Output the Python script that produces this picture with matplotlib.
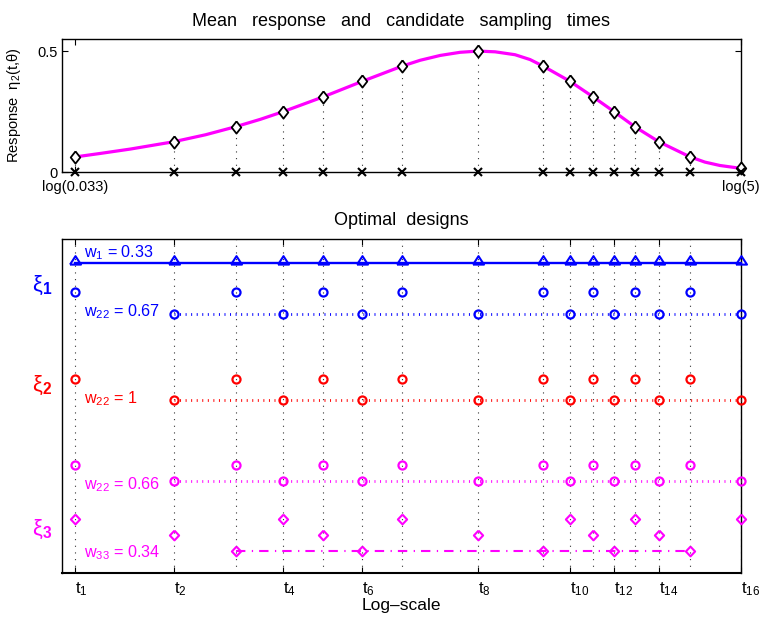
import numpy as np
import matplotlib
matplotlib.use("Agg")
import matplotlib.pyplot as plt
from matplotlib.transforms import blended_transform_factory

plt.rcParams['font.family'] = ['Liberation Sans', 'DejaVu Sans']
plt.rcParams['mathtext.fontset'] = 'custom'
plt.rcParams['mathtext.rm'] = 'Liberation Sans'
plt.rcParams['mathtext.it'] = 'Liberation Sans:italic'
plt.rcParams['mathtext.bf'] = 'Liberation Sans:bold'

# ---------------- data ----------------
times = [0.033, 0.0695, 0.111, 0.159, 0.215, 0.288, 0.389, 0.690,
         1.125, 1.379, 1.64, 1.92, 2.25, 2.69, 3.40, 5.0]
response = [0.062, 0.125, 0.187, 0.249, 0.311, 0.375, 0.438, 0.500,
            0.438, 0.375, 0.311, 0.249, 0.187, 0.125, 0.063, 0.015]

curve_logt = [-3.411, -3.215, -2.990, -2.666, -2.425, -2.200, -2.011, -1.838,
              -1.537, -1.244, -0.943, -0.808, -0.657, -0.507, -0.371, -0.243,
              -0.093, 0.020, 0.118, 0.321, 0.494, 0.652, 0.810, 0.991,
              1.111, 1.224, 1.337, 1.450, 1.609]
curve_resp = [0.062, 0.077, 0.095, 0.125, 0.154, 0.187, 0.218, 0.250,
              0.311, 0.375, 0.438, 0.462, 0.482, 0.495, 0.500, 0.497,
              0.485, 0.465, 0.438, 0.375, 0.311, 0.250, 0.187, 0.125,
              0.093, 0.063, 0.041, 0.027, 0.015]

top_tick_labels = ['log(0.033)', 'log(5)']
bottom_tick_idx = [0, 1, 3, 5, 7, 9, 11, 13, 15]
bottom_tick_labels = ['t$_{1}$', 't$_{2}$', 't$_{4}$', 't$_{6}$', 't$_{8}$',
                      't$_{10}$', 't$_{12}$', 't$_{14}$', 't$_{16}$']

all_idx = list(range(16))
odd_idx = [0, 2, 4, 6, 8, 10, 12, 14]
even_idx = [1, 3, 5, 7, 9, 11, 13, 15]
xi3_a_idx = [0, 3, 6, 9, 12, 15]
xi3_b_idx = [1, 4, 7, 10, 13]
xi3_c_idx = [2, 5, 8, 11, 14]

weight_labels = ['w$_{1}$ = 0.33', 'w$_{22}$ = 0.67', 'w$_{22}$ = 1',
                 'w$_{22}$ = 0.66', 'w$_{33}$ = 0.34']
design_labels = ['ξ$\\mathbf{_1}$', 'ξ$\\mathbf{_2}$', 'ξ$\\mathbf{_3}$']

# ---------------- styles ----------------
BLUE = '#0000FF'
RED = '#FF0000'
MAG = '#FF00FF'
dotted_grid = (0, (1, 5))
dotted_col = (0, (0.35, 1.65))
dashdot = (0, (4.5, 3.1, 0.6, 2.9))

tri_marker = [(-1, -0.2), (1, -0.2), (0, 1.34), (-1, -0.2)]
dia_top = [(0, 1), (0.78, 0), (0, -1), (-0.78, 0), (0, 1)]
dia_bot = [(0, 1), (0.95, 0), (0, -1), (-0.95, 0), (0, 1)]

logt = np.log(np.array(times))
resp = np.array(response)
xlim = (np.log(0.03), np.log(5.0))

fig = plt.figure(figsize=(7.65, 6.17), dpi=100)
ax1 = fig.add_axes([62 / 765, 1 - 172 / 617, 679 / 765, 133 / 617])
ax2 = fig.add_axes([62 / 765, 1 - 573 / 617, 679 / 765, 334 / 617])

# ---------------- top panel ----------------
for x, y in zip(logt, resp):
    ax1.plot([x, x], [0, y], color='#333333', lw=0.8, ls=dotted_grid, zorder=1)
ax1.plot(curve_logt, curve_resp, color=MAG, lw=2.3, zorder=2, solid_capstyle='butt')
ax1.plot(logt, resp, ls='none', marker=dia_top, ms=8.8, mfc='white', mec='black',
         mew=1.3, zorder=4, clip_on=False)
ax1.plot(logt, np.zeros_like(logt), ls='none', marker='x', ms=5.2, mec='black',
         mew=1.5, zorder=5, clip_on=False)
ax1.set_xlim(*xlim)
ax1.set_ylim(0, 0.55)
ax1.set_xticks([logt[0], logt[-1]])
ax1.set_xticklabels(top_tick_labels, fontsize=10.5)
ax1.set_yticks([0, 0.5])
ax1.set_yticklabels(['0', '0.5'], fontsize=10.5)
ax1.tick_params(axis='both', direction='in', length=4.5, width=0.8,
                top=True, right=True, pad=3)
ax1.tick_params(axis='x', pad=6)
ax1.set_title('Mean   response   and   candidate   sampling   times', fontsize=13, pad=9.5)
ax1.text(-0.0707, 0.5, 'Response  η$_{2}$(t,θ)', transform=ax1.transAxes,
         rotation=90, ha='center', va='center', fontsize=10.5)
for s in ax1.spines.values():
    s.set_linewidth(1.0)

# ---------------- bottom panel ----------------
for x in logt:
    ax2.plot([x, x], [0, 1], color='#333333', lw=0.8, ls=dotted_grid, zorder=1)

lv = {'tri': 0.927, 'b_up': 0.840, 'b_lo': 0.775, 'r_up': 0.581, 'r_lo': 0.517,
      'm_up': 0.323, 'm_lo': 0.275, 'd_a': 0.162, 'd_b': 0.113, 'd_c': 0.065}

def row(idx, level, color, marker, ms, ls='none', lw=1.5, mew=1.6):
    xs = logt[idx]
    ax2.plot(xs, np.full(len(xs), level), color=color, ls=ls, lw=lw, marker=marker,
             ms=ms, mfc='none', mec=color, mew=mew, zorder=3, clip_on=False,
             dash_capstyle='butt')

# xi1
row(all_idx, lv['tri'], BLUE, tri_marker, 10.6, ls='-', lw=1.7, mew=1.5)
row(odd_idx, lv['b_up'], BLUE, 'o', 5.8)
row(even_idx, lv['b_lo'], BLUE, 'o', 5.8, ls=dotted_col, lw=2.0)
# xi2
row(odd_idx, lv['r_up'], RED, 'o', 5.8)
row(even_idx, lv['r_lo'], RED, 'o', 5.8, ls=dotted_col, lw=2.0)
# xi3
row(odd_idx, lv['m_up'], MAG, 'o', 5.8)
row(even_idx, lv['m_lo'], MAG, 'o', 5.8, ls=dotted_col, lw=2.0)
row(xi3_a_idx, lv['d_a'], MAG, dia_bot, 7.0, mew=1.5)
row(xi3_b_idx, lv['d_b'], MAG, dia_bot, 7.0, mew=1.5)
row(xi3_c_idx, lv['d_c'], MAG, dia_bot, 7.0, ls=dashdot, lw=1.5, mew=1.5)

# weight labels
xlab = logt[0] + 9 / 132.9
ax2.text(xlab, 0.945, weight_labels[0], color=BLUE, fontsize=11.6, va='baseline', ha='left')
ax2.text(xlab, 0.769, weight_labels[1], color=BLUE, fontsize=11.6, va='baseline', ha='left')
ax2.text(xlab, 0.509, weight_labels[2], color=RED, fontsize=11.6, va='baseline', ha='left')
ax2.text(xlab, 0.251, weight_labels[3], color=MAG, fontsize=11.6, va='baseline', ha='left')
ax2.text(xlab, 0.048, weight_labels[4], color=MAG, fontsize=11.6, va='baseline', ha='left')

# design labels
tr = blended_transform_factory(ax2.transAxes, ax2.transData)
for lab, y, c in zip(design_labels, [0.862, 0.563, 0.129], [BLUE, RED, MAG]):
    ax2.text(-0.0295, y, lab, color=c, fontsize=16, ha='center', va='center',
             transform=tr)

ax2.set_xlim(*xlim)
ax2.set_ylim(0, 1)
ax2.set_yticks([])
ax2.set_xticks(logt[bottom_tick_idx])
ax2.set_xticklabels(bottom_tick_labels, fontsize=12, ha='left')
ax2.tick_params(axis='x', direction='in', length=4.5, width=0.8, top=True, pad=5)
ax2.set_title('Optimal  designs', fontsize=13, pad=10)
ax2.text(0.5, (573 - 610) / 334, 'Log–scale', transform=ax2.transAxes,
         ha='center', va='baseline', fontsize=12.5)
for s in ax2.spines.values():
    s.set_linewidth(1.0)
ax2.spines['bottom'].set_linewidth(1.5)

fig.savefig('out.png', dpi=100)
